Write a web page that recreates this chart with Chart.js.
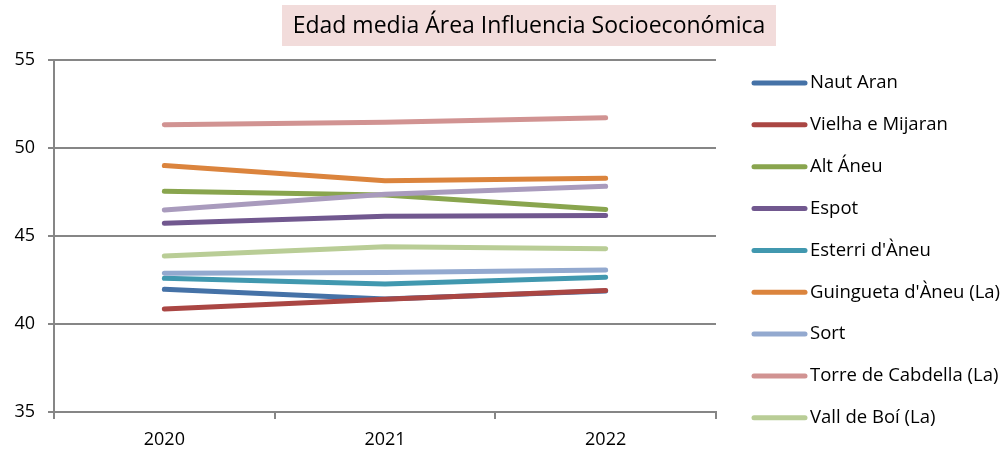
<!DOCTYPE html>
<html>
<head>
<meta charset="utf-8">
<script src="https://cdn.jsdelivr.net/npm/chart.js@4/dist/chart.umd.min.js"></script>
<style>
  html, body { margin: 0; padding: 0; background: #fff; }
  #wrap { width: 1006px; height: 452px; }
</style>
</head>
<body>
<div id="wrap"><canvas id="myChart" width="1006" height="452"></canvas></div>
<script>
// data
const years = ["2020", "2021", "2022"];
const yTicks = [35, 40, 45, 50, 55];

const nautAran   = [41.97, 41.42, 41.88];
const vielha     = [40.85, 41.40, 41.91];
const altAneu    = [47.54, 47.33, 46.50];
const espot      = [45.72, 46.12, 46.17];
const esterri    = [42.60, 42.27, 42.66];
const guingueta  = [49.00, 48.14, 48.28];
const sort       = [42.88, 42.92, 43.07];
const torre      = [51.32, 51.47, 51.72];
const vallBoi    = [43.86, 44.39, 44.28];
const vilaller   = [46.48, 47.37, 47.82]; // 10th series, its legend entry is cut off in the original

const seriesNames = ["Naut Aran", "Vielha e Mijaran", "Alt Áneu", "Espot", "Esterri d'Àneu",
    "Guingueta d'Àneu (La)", "Sort", "Torre de Cabdella (La)", "Vall de Boí (La)", "Vilaller"];
const seriesValues = [nautAran, vielha, altAneu, espot, esterri, guingueta, sort, torre, vallBoi, vilaller];
const seriesColors = ["#4572A7", "#AA4643", "#89A54E", "#71588F", "#4198AF",
    "#DB843D", "#93A9CF", "#D19392", "#B9CD96", "#A99BBD"];
const legendCount = 9;

const titleText = "Edad media Área Influencia Socioeconómica";
const fontFam = "'Open Sans', sans-serif";

let datasets = [];
for (let i = 0; i < seriesNames.length; i++) {
    datasets.push({
        label: seriesNames[i],
        data: seriesValues[i],
        borderColor: seriesColors[i],
        backgroundColor: seriesColors[i],
        borderWidth: 5,
        borderCapStyle: 'round',
        borderJoinStyle: 'round',
        pointRadius: 0,
        pointHoverRadius: 0,
        tension: 0,
        fill: false,
        order: seriesNames.length - i, // later series on top, like the original
        inLegend: i < legendCount
    });
}

// title box + legend on the right
const decor = {
    id: 'decor',
    afterDraw(chart) {
        const ctx = chart.ctx;
        ctx.save();
        // title
        ctx.font = "23px " + fontFam;
        ctx.fillStyle = "#F2DCDB";
        ctx.fillRect(282, 5, 494, 41);
        ctx.fillStyle = "#000";
        ctx.textAlign = "center";
        ctx.textBaseline = "middle";
        ctx.fillText(titleText, 529, 26);

        // legend
        ctx.font = "18.5px " + fontFam;
        ctx.textAlign = "left";
        let y = 83;
        chart.data.datasets.forEach(ds => {
            if (!ds.inLegend) return;
            ctx.strokeStyle = ds.borderColor;
            ctx.lineWidth = 5;
            ctx.lineCap = 'round';
            ctx.beginPath();
            ctx.moveTo(754, y);
            ctx.lineTo(805, y);
            ctx.stroke();
            ctx.fillStyle = "#000";
            ctx.fillText(ds.label, 810, y);
            y += 41.85;
        });
        ctx.restore();
    }
};

new Chart("myChart", {
    type: "line",
    data: {
        labels: years,
        datasets: datasets
    },
    options: {
        responsive: false,
        devicePixelRatio: 1,
        animation: false,
        layout: { padding: { top: 60, right: 290, bottom: 0, left: 0 } },
        plugins: {
            legend: { display: false },
            title: { display: false },
            tooltip: { enabled: false }
        },
        scales: {
            x: {
                offset: true,
                afterFit: s => { s.height = 40; },
                grid: { offset: true, drawOnChartArea: false, drawTicks: true, tickLength: 7, color: "#868686", lineWidth: 2 },
                border: { color: "#868686", width: 2 },
                ticks: { color: "#000", font: { family: fontFam, size: 18 }, padding: 10 }
            },
            y: {
                min: yTicks[0],
                max: yTicks[yTicks.length - 1],
                afterFit: s => { s.width = 54; },
                afterBuildTicks: s => { s.ticks = yTicks.map(v => ({ value: v })); },
                grid: { color: "#868686", lineWidth: 2, tickLength: 6 },
                border: { color: "#868686", width: 2 },
                ticks: { color: "#000", font: { family: fontFam, size: 18 }, padding: 13 }
            }
        }
    },
    plugins: [decor]
});
</script>
</body>
</html>
